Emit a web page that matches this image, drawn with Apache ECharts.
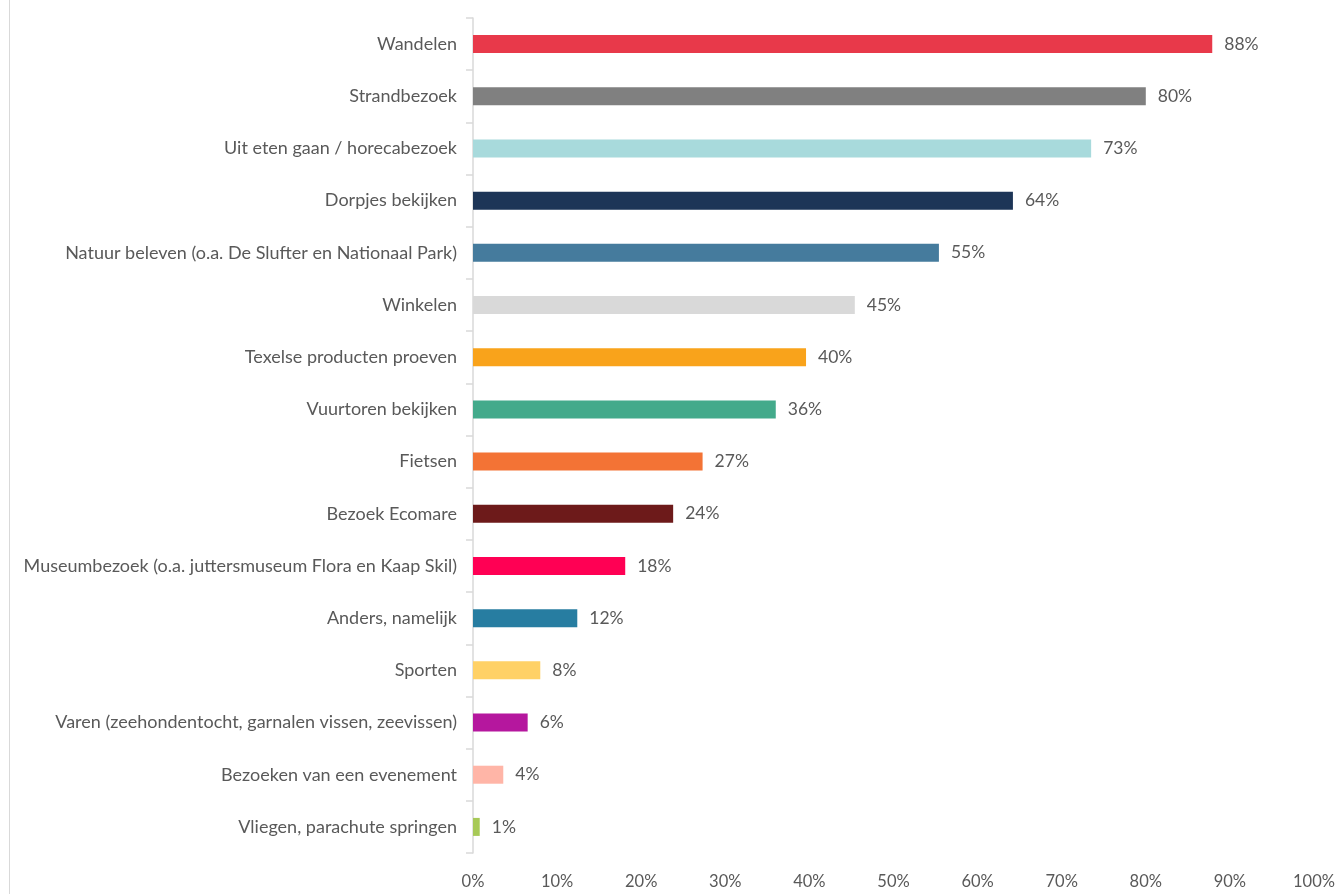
<!DOCTYPE html>
<html>
<head>
<meta charset="utf-8">
<script src="https://cdn.jsdelivr.net/npm/echarts@6/dist/echarts.min.js"></script>
<style>
  html, body { margin: 0; padding: 0; background: #fff; }
  #chart { width: 1340px; height: 894px; }
</style>
</head>
<body>
<div id="chart"></div>
<script>
// activiteiten (top -> bottom)
const categories = [
  "Wandelen",
  "Strandbezoek",
  "Uit eten gaan / horecabezoek",
  "Dorpjes bekijken",
  "Natuur beleven (o.a. De Slufter en Nationaal Park)",
  "Winkelen",
  "Texelse producten proeven",
  "Vuurtoren bekijken",
  "Fietsen",
  "Bezoek Ecomare",
  "Museumbezoek (o.a. juttersmuseum Flora en Kaap Skil)",
  "Anders, namelijk",
  "Sporten",
  "Varen (zeehondentocht, garnalen vissen, zeevissen)",
  "Bezoeken van een evenement",
  "Vliegen, parachute springen"
];
const values = [87.9, 80.0, 73.5, 64.2, 55.4, 45.4, 39.6, 36.0, 27.3, 23.8, 18.1, 12.4, 8.0, 6.5, 3.6, 0.8];
const labels = ["88%", "80%", "73%", "64%", "55%", "45%", "40%", "36%", "27%", "24%", "18%", "12%", "8%", "6%", "4%", "1%"];
const colors = [
  "#E8394A", "#808080", "#A8DADC", "#1D3557", "#457B9D", "#D9D9D9",
  "#F9A31B", "#43AA8B", "#F37335", "#6D1A1A", "#FF0054", "#277DA1",
  "#FFD166", "#B5179E", "#FFB5A7", "#A7C957"
];
const xTicks = [0, 10, 20, 30, 40, 50, 60, 70, 80, 90, 100];

const font = "Lato, 'Open Sans', sans-serif";
const chart = echarts.init(document.getElementById("chart"));

chart.setOption({
  animation: false,
  textStyle: { fontFamily: font },
  grid: { left: 473, right: 26, top: 18, bottom: 41, containLabel: false },
  graphic: [
    {
      type: "line",
      shape: { x1: 9.5, y1: 0, x2: 9.5, y2: 894 },
      style: { stroke: "#D9D9D9", lineWidth: 1 }
    }
  ],
  xAxis: {
    type: "value",
    min: 0,
    max: 100,
    interval: 10,
    axisLine: { show: false },
    axisTick: { show: false },
    splitLine: { show: false },
    axisLabel: {
      color: "#595959",
      fontSize: 16.5,
      margin: 20,
      fontFamily: font,
      formatter: v => (xTicks.includes(v) ? v + "%" : "")
    }
  },
  yAxis: {
    type: "category",
    inverse: true,
    data: categories,
    axisLine: { show: true, lineStyle: { color: "#D9D9D9", width: 1.5 } },
    axisTick: { show: true, length: 7, lineStyle: { color: "#D9D9D9", width: 1.5 } },
    axisLabel: { color: "#595959", fontSize: 18, margin: 16, fontFamily: font }
  },
  series: [
    {
      type: "bar",
      barWidth: 18,
      data: values.map((v, i) => ({ value: v, itemStyle: { color: colors[i] } })),
      label: {
        show: true,
        position: "right",
        distance: 12,
        color: "#595959",
        fontSize: 17.5,
        fontFamily: font,
        formatter: p => labels[p.dataIndex]
      }
    }
  ]
});
</script>
</body>
</html>
